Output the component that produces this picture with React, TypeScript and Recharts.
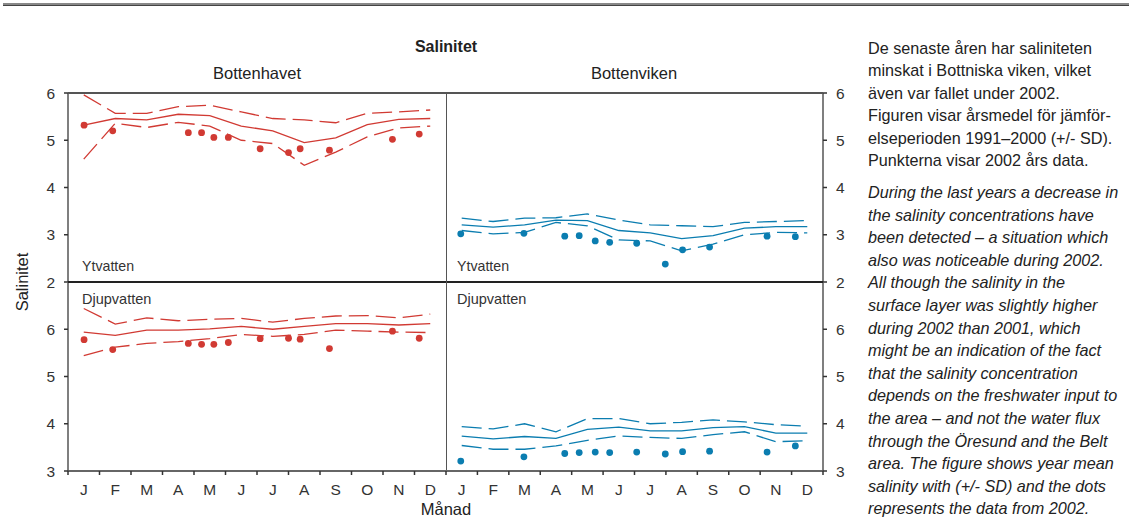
import { ComposedChart, Line, Scatter, XAxis, YAxis } from 'recharts';

const months = ['J', 'F', 'M', 'A', 'M', 'J', 'J', 'A', 'S', 'O', 'N', 'D'];

// Bottenhavet – ytvatten / djupvatten (mean 1991–2000, +/- SD, 2002 obs)
const havetYtMean = [5.32, 5.46, 5.43, 5.55, 5.52, 5.3, 5.2, 4.95, 5.05, 5.33, 5.44, 5.46];
const havetYtHi = [5.96, 5.57, 5.57, 5.71, 5.74, 5.6, 5.46, 5.43, 5.37, 5.57, 5.6, 5.64];
const havetYtLo = [4.6, 5.36, 5.27, 5.38, 5.3, 5.0, 4.93, 4.47, 4.75, 5.07, 5.26, 5.3];
const havetDates = [0.51, 1.42, 3.82, 4.24, 4.63, 5.09, 6.1, 7.0, 7.37, 8.3, 10.3, 11.15];
const havetYt2002 = [5.32, 5.2, 5.16, 5.16, 5.06, 5.06, 4.82, 4.74, 4.82, 4.79, 5.02, 5.13];

const havetDjMean = [5.94, 5.87, 5.98, 5.98, 6.01, 6.06, 6.0, 6.06, 6.12, 6.12, 6.09, 6.12];
const havetDjHi = [6.44, 6.11, 6.24, 6.18, 6.21, 6.23, 6.15, 6.23, 6.28, 6.29, 6.24, 6.32];
const havetDjLo = [5.44, 5.62, 5.7, 5.74, 5.8, 5.89, 5.85, 5.89, 5.98, 5.96, 5.94, 5.93];
const havetDj2002 = [5.78, 5.57, 5.7, 5.68, 5.68, 5.72, 5.8, 5.81, 5.79, 5.59, 5.96, 5.81];

// Bottenviken
const vikenYtMean = [3.21, 3.16, 3.21, 3.31, 3.3, 3.09, 3.04, 2.92, 2.98, 3.14, 3.17, 3.17];
const vikenYtHi = [3.35, 3.28, 3.35, 3.36, 3.44, 3.31, 3.21, 3.19, 3.17, 3.26, 3.28, 3.3];
const vikenYtLo = [3.09, 3.02, 3.05, 3.26, 3.19, 2.89, 2.87, 2.66, 2.8, 3.0, 3.05, 3.04];
const vikenDates = [0.47, 2.48, 3.78, 4.24, 4.75, 5.21, 6.07, 6.98, 7.53, 8.39, 10.22, 11.12];
const vikenYt2002 = [3.02, 3.03, 2.97, 2.98, 2.87, 2.84, 2.82, 2.38, 2.68, 2.74, 2.97, 2.96];

const vikenDjMean = [3.74, 3.68, 3.73, 3.69, 3.88, 3.93, 3.85, 3.85, 3.92, 3.94, 3.8, 3.8];
const vikenDjHi = [3.94, 3.89, 4.0, 3.83, 4.11, 4.11, 4.0, 4.03, 4.08, 4.04, 3.98, 3.95];
const vikenDjLo = [3.54, 3.46, 3.46, 3.53, 3.65, 3.74, 3.71, 3.69, 3.77, 3.83, 3.62, 3.64];
const vikenDj2002 = [3.21, 3.3, 3.37, 3.39, 3.4, 3.39, 3.4, 3.36, 3.41, 3.42, 3.4, 3.53];

const topTicks = [2, 3, 4, 5, 6];
const bottomTicks = [3, 4, 5, 6];
const monthTicks = [0, 0.5, 1, 1.5, 2, 2.5, 3, 3.5, 4, 4.5, 5, 5.5, 6, 6.5, 7, 7.5, 8, 8.5, 9, 9.5, 10, 10.5, 11, 11.5, 12];

const textSv = [
  'De senaste åren har saliniteten',
  'minskat i Bottniska viken, vilket',
  'även var fallet under 2002.',
  'Figuren visar årsmedel för jämför-',
  'elseperioden 1991–2000 (+/- SD).',
  'Punkterna visar 2002 års data.',
];
const textEn = [
  'During the last years a decrease in',
  'the salinity concentrations have',
  'been detected – a situation which',
  'also was noticeable during 2002.',
  'All though the salinity in the',
  'surface layer was slightly higher',
  'during 2002 than 2001, which',
  'might be an indication of the fact',
  'that the salinity concentration',
  'depends on the freshwater input to',
  'the area – and not the water flux',
  'through the Öresund and the Belt',
  'area. The figure shows year mean',
  'salinity with (+/- SD) and the dots',
  'represents the data from 2002.',
];

const RED = '#d13a33';
const BLUE = '#0b7db0';
const AXIS = '#555';
const FONT = "'Liberation Sans', Arial, sans-serif";

function MonthTick(props: any) {
  const { x, y, payload } = props;
  const v = payload.value;
  if (Number.isInteger(v)) {
    return <line x1={x} x2={x} y1={y - 4} y2={y} stroke="#333" strokeWidth={1.5} />;
  }
  return (
    <text x={x} y={y + 20} textAnchor="middle" fill="#333" fontSize={15.5}>
      {months[Math.floor(v)]}
    </text>
  );
}

interface PanelProps {
  left: number;
  top: number;
  side: 'left' | 'right';
  domain: [number, number];
  ticks: number[];
  showX: boolean;
  color: string;
  mean: number[];
  hi: number[];
  lo: number[];
  dates: number[];
  obs: number[];
}

function Panel({ left, top, side, domain, ticks, showX, color, mean, hi, lo, dates, obs }: PanelProps) {
  const rows = months.map((_, i) => ({ m: i + 0.5, mean: mean[i], hi: hi[i], lo: lo[i] }));
  const pts = dates.map((d, i) => ({ m: d, v: obs[i] }));
  const yW = side === 'left' ? 68 : 40;
  const plotW = side === 'left' ? 378 : 377;
  const plotH = 189;
  const xH = showX ? 32 : 0;
  const mt = 10;
  const mb = showX ? 0 : 10;
  return (
    <div style={{ position: 'absolute', left, top: top - mt }}>
      <ComposedChart width={plotW + yW} height={plotH + xH + mt + mb} data={rows} margin={{ top: mt, right: 0, bottom: mb, left: 0 }}>
        <XAxis
          type="number"
          dataKey="m"
          domain={[0, 12]}
          ticks={monthTicks}
          interval={0}
          hide={!showX}
          height={xH}
          tickLine={false}
          tickSize={4}
          tickMargin={0}
          tick={<MonthTick />}
          axisLine={{ stroke: '#333', strokeWidth: 1.5 }}
        />
        <YAxis
          type="number"
          orientation={side}
          domain={domain}
          ticks={ticks}
          interval={0}
          width={yW}
          tickSize={4}
          tickMargin={9}
          tick={{ fill: '#333', fontSize: 15.5 }}
          tickLine={{ stroke: '#333', strokeWidth: 1.5 }}
          axisLine={{ stroke: AXIS, strokeWidth: 1.5 }}
          allowDataOverflow
        />
        <Line type="linear" dataKey="hi" stroke={color} strokeWidth={1.3} strokeDasharray="20 7" dot={false} isAnimationActive={false} />
        <Line type="linear" dataKey="mean" stroke={color} strokeWidth={1.3} dot={false} isAnimationActive={false} />
        <Line type="linear" dataKey="lo" stroke={color} strokeWidth={1.3} strokeDasharray="20 7" dot={false} isAnimationActive={false} />
        <Scatter
          data={pts}
          dataKey="v"
          fill={color}
          isAnimationActive={false}
          shape={(p: any) => <circle cx={p.cx} cy={p.cy} r={3.4} fill={color} />}
        />
      </ComposedChart>
    </div>
  );
}

export default function App() {
  const label = { position: 'absolute' as const, color: '#333', lineHeight: '16px' };
  return (
    <div style={{ position: 'absolute', left: 0, top: 0, width: 1129, height: 519, background: '#fff', fontFamily: FONT, color: '#222', overflow: 'hidden' }}>
      <div style={{ position: 'absolute', left: 3, top: 3, width: 1126, height: 2, background: '#888', borderBottom: '1px solid #444' }} />

      <div style={{ position: 'absolute', left: 346, width: 200, top: 38, textAlign: 'center', fontWeight: 700, fontSize: 16 }}>Salinitet</div>
      <div style={{ position: 'absolute', left: 157, width: 200, top: 64, textAlign: 'center', fontSize: 16.5 }}>Bottenhavet</div>
      <div style={{ position: 'absolute', left: 534, width: 200, top: 64, textAlign: 'center', fontSize: 16.5 }}>Bottenviken</div>
      <div style={{ position: 'absolute', left: 22, top: 282, transform: 'translate(-50%, -50%) rotate(-90deg)', fontSize: 16.5, whiteSpace: 'nowrap' }}>Salinitet</div>
      <div style={{ position: 'absolute', left: 346, width: 200, top: 500, textAlign: 'center', fontSize: 16.5 }}>Månad</div>

      <Panel left={0} top={93} side="left" domain={[2, 6]} ticks={topTicks} showX={false} color={RED} mean={havetYtMean} hi={havetYtHi} lo={havetYtLo} dates={havetDates} obs={havetYt2002} />
      <Panel left={0} top={282} side="left" domain={[3, 7]} ticks={bottomTicks} showX={true} color={RED} mean={havetDjMean} hi={havetDjHi} lo={havetDjLo} dates={havetDates} obs={havetDj2002} />
      <Panel left={446} top={93} side="right" domain={[2, 6]} ticks={topTicks} showX={false} color={BLUE} mean={vikenYtMean} hi={vikenYtHi} lo={vikenYtLo} dates={vikenDates} obs={vikenYt2002} />
      <Panel left={446} top={282} side="right" domain={[3, 7]} ticks={bottomTicks} showX={true} color={BLUE} mean={vikenDjMean} hi={vikenDjHi} lo={vikenDjLo} dates={vikenDates} obs={vikenDj2002} />

      {/* frame */}
      <div style={{ position: 'absolute', left: 68, top: 92, width: 755, height: 1.5, background: AXIS }} />
      <div style={{ position: 'absolute', left: 68, top: 281, width: 755, height: 1.5, background: '#222' }} />
      <div style={{ position: 'absolute', left: 445.5, top: 93, width: 1.5, height: 377, background: AXIS }} />

      <div style={{ ...label, fontSize: 14.2, left: 82, top: 258 }}>Ytvatten</div>
      <div style={{ ...label, fontSize: 14.2, left: 457, top: 258 }}>Ytvatten</div>
      <div style={{ ...label, fontSize: 14.5, left: 82, top: 291 }}>Djupvatten</div>
      <div style={{ ...label, fontSize: 14.5, left: 457, top: 291 }}>Djupvatten</div>

      <div style={{ position: 'absolute', left: 868, top: 36.5, fontSize: 16.2, lineHeight: '22.6px', whiteSpace: 'nowrap', color: '#222' }}>
        {textSv.map((t, i) => (
          <div key={i}>{t}</div>
        ))}
        <div style={{ fontStyle: 'italic', marginTop: 9 }}>
          {textEn.map((t, i) => (
            <div key={i}>{t}</div>
          ))}
        </div>
      </div>
    </div>
  );
}
